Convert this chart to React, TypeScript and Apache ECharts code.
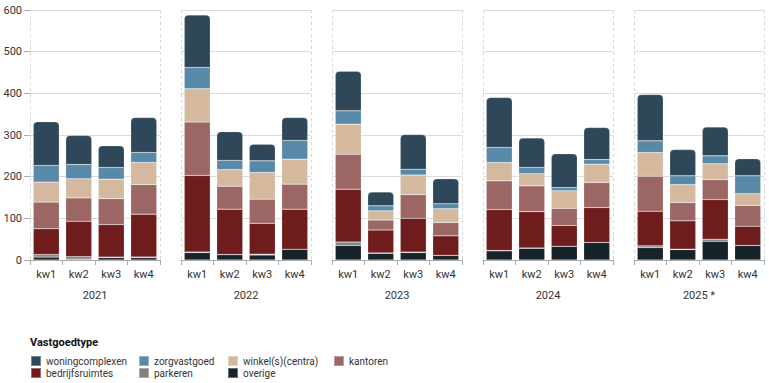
import React, { useEffect, useRef } from "react";
import * as echarts from "echarts";

const years = ["2021", "2022", "2023", "2024", "2025 *"];
const quarters = ["kw1", "kw2", "kw3", "kw4"];

// values per year (4 quarters each), 2021..2025
const overige = [7, 2, 6, 6, 18, 13, 12, 26, 35, 16, 18, 11, 22, 28, 33, 42, 30, 25, 45, 35];
const parkeren = [6, 6, 1, 1, 1, 0, 2, 0, 8, 1, 1, 0, 1, 1, 0, 0, 4, 1, 5, 0];
const bedrijfsruimtes = [62, 85, 78, 103, 184, 109, 74, 96, 127, 55, 81, 47, 98, 87, 50, 84, 83, 68, 95, 46];
const kantoren = [64, 56, 62, 71, 128, 55, 58, 60, 84, 24, 57, 32, 69, 62, 41, 60, 84, 44, 48, 50];
const winkel = [48, 46, 47, 53, 80, 40, 64, 60, 72, 22, 47, 33, 44, 29, 42, 44, 57, 43, 38, 28];
const zorgvastgoed = [40, 34, 28, 24, 51, 22, 28, 45, 32, 12, 14, 12, 36, 15, 8, 11, 28, 21, 19, 43];
const woningcomplexen = [105, 70, 52, 84, 126, 69, 40, 55, 95, 33, 83, 60, 120, 71, 81, 77, 111, 63, 69, 41];

const seriesDefs = [
  { name: "overige", data: overige, color: "#17232b" },
  { name: "parkeren", data: parkeren, color: "#808080" },
  { name: "bedrijfsruimtes", data: bedrijfsruimtes, color: "#6e1d1c" },
  { name: "kantoren", data: kantoren, color: "#9b6664" },
  { name: "winkel(s)(centra)", data: winkel, color: "#d4b99f" },
  { name: "zorgvastgoed", data: zorgvastgoed, color: "#5889a8" },
  { name: "woningcomplexen", data: woningcomplexen, color: "#2f4859" },
];

const FONT = "Roboto, 'Noto Sans', sans-serif";
const GRID_LEFT0 = 30;
const GRID_STEP = 151;
const GRID_W = 130;
const GRID_TOP = 10;
const GRID_H = 250;

export default function App() {
  const ref = useRef<HTMLDivElement>(null);
  useEffect(() => {
    if (!ref.current) return;
    const chart = echarts.init(ref.current, null, { renderer: "svg" });
    const grids: any[] = [];
    const xAxes: any[] = [];
    const yAxes: any[] = [];
    const series: any[] = [];
    const graphics: any[] = [];
    years.forEach((yr, i) => {
      const left = GRID_LEFT0 + i * GRID_STEP;
      grids.push({ left, top: GRID_TOP, width: GRID_W, height: GRID_H, containLabel: false });
      xAxes.push({
        type: "category",
        gridIndex: i,
        data: quarters,
        name: yr,
        nameLocation: "middle",
        nameGap: 30,
        nameTextStyle: { color: "#333", fontSize: 11, fontFamily: FONT },
        axisLine: { show: true, lineStyle: { color: "#aaa", width: 1 } },
        axisTick: { show: true, length: 5, lineStyle: { color: "#aaa" } },
        axisLabel: { color: "#333", fontSize: 11, fontFamily: FONT, margin: 9 },
      });
      yAxes.push({
        type: "value",
        gridIndex: i,
        min: 0,
        max: 600,
        interval: 100,
        axisLine: { show: false },
        axisTick: { show: i === 0, length: 6, lineStyle: { color: "#aaa" } },
        axisLabel: { show: i === 0, color: "#333", fontSize: 11, fontFamily: FONT, margin: 8 },
        splitLine: { show: true, lineStyle: { color: "#dcdcdc", width: 1 } },
      });
      [left + 0.5, left + GRID_W + 0.5].forEach((x) => {
        graphics.push({
          type: "line",
          shape: { x1: x, y1: GRID_TOP, x2: x, y2: GRID_TOP + GRID_H },
          style: { stroke: "#d8d8d8", lineWidth: 1, lineDash: [3, 3] },
          z: 0,
        });
      });
      seriesDefs.forEach((s, k) => {
        series.push({
          type: "bar",
          name: s.name,
          xAxisIndex: i,
          yAxisIndex: i,
          stack: "p" + i,
          barCategoryGap: "20%",
          data: s.data.slice(i * 4, i * 4 + 4),
          itemStyle: {
            color: s.color,
            borderColor: "rgba(255,255,255,0.35)",
            borderWidth: 0.5,
            borderRadius: k === seriesDefs.length - 1 ? [4, 4, 0, 0] : 0,
          },
          emphasis: { disabled: true },
        });
      });
    });
    graphics.push({
      type: "text",
      left: 30,
      top: 337,
      style: { text: "Vastgoedtype", fill: "#111", font: `bold 11px ${FONT}` },
    });
    const legendItems = [
      { name: "woningcomplexen", left: 30, top: 355 },
      { name: "zorgvastgoed", left: 138, top: 355 },
      { name: "winkel(s)(centra)", left: 227, top: 355 },
      { name: "kantoren", left: 333, top: 355 },
      { name: "bedrijfsruimtes", left: 30, top: 367 },
      { name: "parkeren", left: 138, top: 367 },
      { name: "overige", left: 227, top: 367 },
    ];
    const legends = legendItems.map((c) => ({
      left: c.left,
      top: c.top,
      itemWidth: 10,
      itemHeight: 10,
      padding: 0,
      icon: "rect",
      selectedMode: false,
      data: [c.name],
      textStyle: { color: "#333", fontSize: 10, fontFamily: FONT, padding: 0 },
    }));
    chart.setOption({
      animation: false,
      textStyle: { fontFamily: FONT },
      grid: grids,
      xAxis: xAxes,
      yAxis: yAxes,
      series,
      legend: legends,
      graphic: graphics,
    });
    return () => chart.dispose();
  }, []);
  return <div ref={ref} style={{ width: 769, height: 383, position: "absolute", left: 0, top: 0 }} />;
}
